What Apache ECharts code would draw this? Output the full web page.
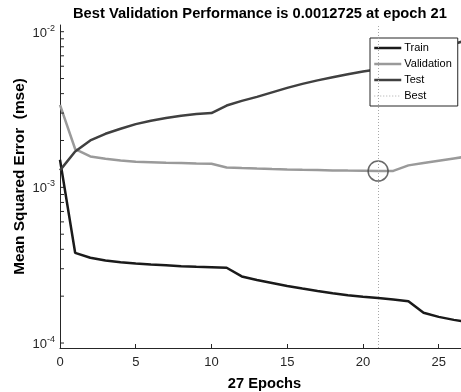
<!DOCTYPE html>
<html>
<head>
<meta charset="utf-8">
<script src="https://cdn.jsdelivr.net/npm/echarts@6/dist/echarts.min.js"></script>
<style>
  html, body { margin: 0; padding: 0; background: #fff; }
  #chart { width: 461px; height: 392px; }
</style>
</head>
<body>
<div id="chart"></div>
<script>
const epochs = [0, 1, 2, 3, 4, 5, 6, 7, 8, 9, 10, 11, 12, 13, 14, 15, 16, 17, 18, 19, 20, 21, 22, 23, 24, 25, 26, 27]

const trainPerf = [
  1.505e-3, 3.797e-4, 3.527e-4, 3.389e-4, 3.305e-4, 3.242e-4, 3.195e-4, 3.162e-4,
  3.116e-4, 3.088e-4, 3.070e-4, 3.043e-4, 2.677e-4, 2.541e-4, 2.431e-4, 2.326e-4,
  2.241e-4, 2.160e-4, 2.088e-4, 2.028e-4, 1.986e-4, 1.948e-4, 1.905e-4, 1.858e-4,
  1.566e-4, 1.472e-4, 1.408e-4, 1.357e-4
]

const valPerf = [
  3.389e-3, 1.763e-3, 1.580e-3, 1.528e-3, 1.490e-3, 1.462e-3, 1.451e-3, 1.440e-3,
  1.434e-3, 1.425e-3, 1.419e-3, 1.343e-3, 1.331e-3, 1.321e-3, 1.312e-3, 1.304e-3,
  1.297e-3, 1.291e-3, 1.285e-3, 1.281e-3, 1.278e-3, 1.2725e-3, 1.276e-3, 1.384e-3,
  1.434e-3, 1.483e-3, 1.534e-3, 1.585e-3
]

const testPerf = [
  1.285e-3, 1.701e-3, 2.001e-3, 2.209e-3, 2.378e-3, 2.549e-3, 2.677e-3, 2.786e-3,
  2.882e-3, 2.955e-3, 2.999e-3, 3.354e-3, 3.595e-3, 3.814e-3, 4.076e-3, 4.355e-3,
  4.621e-3, 4.866e-3, 5.101e-3, 5.332e-3, 5.541e-3, 5.741e-3, 5.939e-3, 6.300e-3,
  7.090e-3, 7.746e-3, 8.341e-3, 8.913e-3
]

const bestEpoch = 21
const bestPerf = 0.0012725

// tick marks of the log axis (majors and the 2..9 minors)
const yTicks = [
  1e-4, 2e-4, 3e-4, 4e-4, 5e-4, 6e-4, 7e-4, 8e-4, 9e-4,
  1e-3, 2e-3, 3e-3, 4e-3, 5e-3, 6e-3, 7e-3, 8e-3, 9e-3,
  1e-2
]

const font = "'Liberation Sans', Arial, Helvetica, sans-serif"
const axisColor = '#262626'

const pairs = arr => arr.map((v, i) => [epochs[i], v])

const chart = echarts.init(document.getElementById('chart'))

const option = {
  animation: false,
  backgroundColor: '#fff',
  textStyle: { fontFamily: font },
  title: {
    text: 'Best Validation Performance is 0.0012725 at epoch 21',
    left: 73,
    top: 6,
    padding: 0,
    textStyle: { fontFamily: font, fontSize: 14.7, fontWeight: 'bold', color: '#000' }
  },
  legend: {
    orient: 'vertical',
    left: 370,
    top: 38,
    padding: [4, 6, 4, 3],
    itemGap: 4,
    itemWidth: 27,
    itemHeight: 10,
    backgroundColor: '#fff',
    borderColor: axisColor,
    borderWidth: 1,
    borderRadius: 0,
    itemStyle: { opacity: 0 },
    data: [
      { name: 'Train', lineStyle: { width: 2.5 } },
      { name: 'Validation', lineStyle: { width: 2.5 } },
      { name: 'Test', lineStyle: { width: 2.5 } },
      { name: 'Best', lineStyle: { width: 1 } }
    ],
    textStyle: { fontFamily: font, fontSize: 11, color: '#000', lineHeight: 12, padding: [0, 0, 0, -2] }
  },
  grid: {
    left: 60,
    top: 25,
    width: 409,
    height: 323,
    outerBoundsMode: 'none',
    containLabel: false
  },
  xAxis: {
    type: 'value',
    min: 0,
    max: 27,
    interval: 5,
    name: '27 Epochs',
    nameLocation: 'middle',
    nameGap: 28,
    nameMoveOverlap: false,
    nameTextStyle: { fontFamily: font, fontSize: 14.7, fontWeight: 'bold', color: '#000' },
    axisLine: { show: true, onZero: false, lineStyle: { color: axisColor, width: 1 } },
    axisTick: { show: true, inside: true, length: 4, lineStyle: { color: axisColor } },
    axisLabel: {
      margin: 8,
      fontSize: 13,
      color: axisColor,
      formatter: v => (v % 5 === 0 ? String(v) : '')
    },
    splitLine: { show: false }
  },
  yAxis: {
    type: 'log',
    logBase: 10,
    min: 9.29e-5,
    max: 0.01104,
    name: 'Mean Squared Error  (mse)',
    nameLocation: 'middle',
    nameGap: 33,
    nameMoveOverlap: false,
    nameTextStyle: { fontFamily: font, fontSize: 15.4, fontWeight: 'bold', color: '#000', padding: [0, 0, 0, 20] },
    axisLine: { show: true, lineStyle: { color: axisColor, width: 1 } },
    axisTick: { show: false },
    axisLabel: {
      margin: 5,
      color: axisColor,
      formatter: v => {
        const lg = Math.log10(v)
        const e = Math.round(lg)
        if (Math.abs(lg - e) > 1e-6) return ''
        return '{b|10}{e|' + e + '}'
      },
      rich: {
        b: { fontFamily: font, fontSize: 13, color: axisColor, verticalAlign: 'bottom' },
        e: { fontFamily: font, fontSize: 9, color: axisColor, verticalAlign: 'bottom', padding: [0, 0, 7, 0] }
      }
    },
    splitLine: { show: false }
  },
  series: [
    {
      name: 'Train',
      type: 'line',
      data: pairs(trainPerf),
      symbol: 'none',
      lineStyle: { color: '#1a1a1a', width: 2.5 },
      itemStyle: { color: '#1a1a1a' },
      z: 2
    },
    {
      name: 'Validation',
      type: 'line',
      data: pairs(valPerf),
      symbol: 'none',
      lineStyle: { color: '#9a9a9a', width: 2.5 },
      itemStyle: { color: '#9a9a9a' },
      z: 2
    },
    {
      name: 'Test',
      type: 'line',
      data: pairs(testPerf),
      symbol: 'none',
      lineStyle: { color: '#404040', width: 2.5 },
      itemStyle: { color: '#404040' },
      z: 2
    },
    {
      name: 'Best',
      type: 'line',
      data: [[bestEpoch, bestPerf]],
      symbol: 'none',
      lineStyle: { color: '#a8a8a8', width: 1, type: [1, 2] },
      itemStyle: { color: '#a8a8a8' },
      z: 1,
      markLine: {
        silent: true,
        symbol: ['none', 'none'],
        label: { show: false },
        lineStyle: { color: '#a8a8a8', width: 1, type: [1, 2] },
        data: [{ xAxis: bestEpoch }, { yAxis: bestPerf }]
      }
    },
    {
      name: 'BestPoint',
      type: 'scatter',
      data: [[bestEpoch, bestPerf]],
      symbol: 'circle',
      symbolSize: 20,
      itemStyle: { color: 'rgba(0,0,0,0)', borderColor: '#444', borderWidth: 1.5 },
      silent: true,
      z: 3
    },
    {
      name: 'yTicks',
      type: 'custom',
      silent: true,
      clip: false,
      data: yTicks.map(v => [0, v]),
      renderItem: (params, api) => {
        const p = api.coord([api.value(0), api.value(1)])
        return {
          type: 'line',
          shape: { x1: p[0], y1: p[1], x2: p[0] + 4, y2: p[1] },
          style: { stroke: axisColor, lineWidth: 1 }
        }
      },
      z: 4
    }
  ]
}

chart.setOption(option)
</script>
</body>
</html>
